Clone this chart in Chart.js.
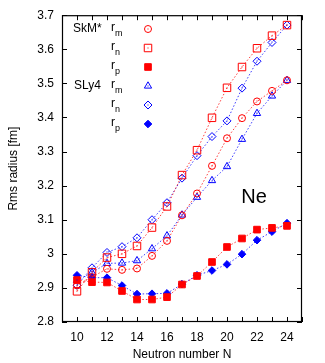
<!DOCTYPE html>
<html><head><meta charset="utf-8">
<script src="https://cdn.jsdelivr.net/npm/chart.js@4/dist/chart.umd.min.js"></script>
<style>html,body{margin:0;padding:0;background:#fff;}#wrap{width:325px;height:363px;}</style>
</head><body><div id="wrap"><canvas id="c" width="325" height="363"></canvas></div>
<script>
// ---- data ----
const neutronNumbers = [10, 11, 12, 13, 14, 15, 16, 17, 18, 19, 20, 21, 22, 23, 24];
const skmRm  = [2.907, 2.932, 2.956, 2.953, 2.957, 2.994, 3.038, 3.113, 3.177, 3.258, 3.339, 3.398, 3.447, 3.478, 3.509];
const skmRn  = [2.890, 2.946, 2.989, 3.000, 3.023, 3.077, 3.139, 3.231, 3.304, 3.399, 3.487, 3.548, 3.603, 3.640, 3.671];
const skmRp  = [2.923, 2.917, 2.916, 2.891, 2.866, 2.866, 2.873, 2.910, 2.935, 2.976, 3.020, 3.045, 3.071, 3.076, 3.082];
const sly4Rm = [2.922, 2.945, 2.972, 2.973, 2.980, 3.015, 3.053, 3.114, 3.166, 3.215, 3.256, 3.336, 3.412, 3.463, 3.509];
const sly4Rn = [2.908, 2.959, 3.004, 3.021, 3.047, 3.100, 3.150, 3.222, 3.288, 3.344, 3.390, 3.486, 3.565, 3.620, 3.671];
const sly4Rp = [2.937, 2.930, 2.930, 2.907, 2.882, 2.883, 2.884, 2.911, 2.937, 2.951, 2.969, 2.999, 3.040, 3.065, 3.090];
const yTickValues = [2.8, 2.9, 3.0, 3.1, 3.2, 3.3, 3.4, 3.5, 3.6, 3.7];
const yTickLabels = ['2.8', '2.9', '3', '3.1', '3.2', '3.3', '3.4', '3.5', '3.6', '3.7'];
const xTickLabels = ['10', '12', '14', '16', '18', '20', '22', '24'];
const legendGroups = ['SkM*', 'SLy4'];
const legendSubs = ['m', 'n', 'p', 'm', 'n', 'p'];

const RED = '#ff0000', BLUE = '#0000ff';
const RED_LINE = 'rgba(255,40,40,0.9)', BLUE_LINE = 'rgba(40,40,255,0.9)';
const FONT = "'Liberation Sans', Arial, sans-serif";

function pts(arr) { return neutronNumbers.map((n, i) => ({ x: n, y: arr[i] })); }

const styles = [
  { data: skmRm,  color: RED,  line: RED_LINE,  style: 'circle',   r: 3.5, open: true },
  { data: skmRn,  color: RED,  line: RED_LINE,  style: 'rect',     r: 5.3, open: true },
  { data: skmRp,  color: RED,  line: RED_LINE,  style: 'rect',     r: 4.7, open: false },
  { data: sly4Rm, color: BLUE, line: BLUE_LINE, style: 'triangle', r: 4.2, open: true },
  { data: sly4Rn, color: BLUE, line: BLUE_LINE, style: 'rectRot',  r: 4.0, open: true },
  { data: sly4Rp, color: BLUE, line: BLUE_LINE, style: 'rectRot',  r: 3.8, open: false }
];

const datasets = styles.map(s => ({
  data: pts(s.data),
  showLine: true,
  fill: false,
  borderColor: s.line,
  borderWidth: 1,
  borderDash: [1.5, 2],
  pointStyle: s.style,
  pointRadius: s.r,
  pointHoverRadius: s.r,
  pointBorderColor: s.color,
  pointBorderWidth: 1,
  pointBackgroundColor: s.open ? 'rgba(0,0,0,0)' : s.color,
  _open: s.open
}));

const framePlugin = {
  id: 'frame',
  afterDatasetsDraw(chart) {
    const ctx = chart.ctx;
    chart.data.datasets.forEach((ds, i) => {
      if (!ds._open) return;
      const meta = chart.getDatasetMeta(i);
      ctx.save();
      ctx.fillStyle = ds.pointBorderColor;
      meta.data.forEach(p => { ctx.fillRect(Math.round(p.x) - 0.5, Math.round(p.y) - 0.5, 1, 1); });
      ctx.restore();
    });
  },
  afterDraw(chart) {
    const ctx = chart.ctx;
    const { left, right, top, bottom } = chart.chartArea;
    const xs = chart.scales.x, ys = chart.scales.y;
    ctx.save();
    ctx.strokeStyle = '#000';
    ctx.lineWidth = 1;
    ctx.beginPath();
    const tl = 5;
    xs.ticks.forEach(t => {
      const px = Math.round(xs.getPixelForValue(t.value)) + 0.5;
      ctx.moveTo(px, bottom); ctx.lineTo(px, bottom - tl);
      ctx.moveTo(px, top); ctx.lineTo(px, top + tl);
    });
    ys.ticks.forEach(t => {
      const py = Math.round(ys.getPixelForValue(t.value)) + 0.5;
      ctx.moveTo(left, py); ctx.lineTo(left + tl, py);
      ctx.moveTo(right, py); ctx.lineTo(right - tl, py);
    });
    ctx.stroke();
    ctx.lineWidth = 1.2;
    ctx.strokeRect(left + 0.5, top + 0.5, right - left - 1, bottom - top - 1);

    // legend
    const rows = [29, 48, 67, 86, 105, 124];
    ctx.fillStyle = '#000';
    ctx.textBaseline = 'middle';
    ctx.textAlign = 'left';
    ctx.font = '12px ' + FONT;
    ctx.fillText(legendGroups[0], 73, rows[0]);
    ctx.fillText(legendGroups[1], 74, rows[3]);
    rows.forEach((y, i) => {
      ctx.fillStyle = '#000';
      ctx.font = '12px ' + FONT;
      ctx.textBaseline = 'middle';
      ctx.fillText('r', 111, y - 1);
      ctx.font = '9px ' + FONT;
      ctx.textBaseline = 'alphabetic';
      ctx.fillText(legendSubs[i], 115, y + 7);
      const s = styles[i];
      ctx.strokeStyle = s.color;
      ctx.fillStyle = s.open ? 'rgba(0,0,0,0)' : s.color;
      ctx.lineWidth = 1;
      Chart.helpers.drawPoint(ctx, { pointStyle: s.style, radius: s.r, borderWidth: 1, rotation: 0 }, 148, y);
      if (s.open) { ctx.fillStyle = s.color; ctx.fillRect(147.5, y - 0.5, 1, 1); }
    });

    ctx.fillStyle = '#000';
    ctx.font = '20px ' + FONT;
    ctx.textAlign = 'center';
    ctx.textBaseline = 'middle';
    ctx.fillText('Ne', xs.getPixelForValue(21.8), ys.getPixelForValue(3.165));
    ctx.restore();
  }
};

new Chart(document.getElementById('c'), {
  type: 'scatter',
  data: { datasets },
  options: {
    responsive: false,
    animation: false,
    devicePixelRatio: 1,
    layout: { padding: { left: 0, top: 14, right: 23, bottom: 0 } },
    plugins: { legend: { display: false }, tooltip: { enabled: false } },
    elements: { line: { tension: 0 } },
    scales: {
      x: {
        type: 'linear', min: 9, max: 25,
        grid: { display: false, drawTicks: false },
        border: { display: false },
        afterFit: s => { s.height = 41; },
        ticks: {
          stepSize: 1, autoSkip: false, maxRotation: 0, padding: 8,
          color: '#000', font: { family: FONT, size: 12 },
          callback: v => xTickLabels.includes(String(v)) ? String(v) : ''
        },
        title: { display: true, text: 'Neutron number N', color: '#000', font: { family: FONT, size: 12 }, padding: { top: 0, bottom: 1 } }
      },
      y: {
        type: 'linear', min: 2.8, max: 3.7,
        grid: { display: false, drawTicks: false },
        border: { display: false },
        afterFit: s => { s.width = 62; },
        ticks: {
          stepSize: 0.1, padding: 8,
          color: '#000', font: { family: FONT, size: 12 },
          callback: v => { const i = yTickValues.findIndex(t => Math.abs(t - v) < 1e-6); return i >= 0 ? yTickLabels[i] : ''; }
        },
        title: { display: true, text: 'Rms radius [fm]', color: '#000', font: { family: FONT, size: 12 }, padding: { top: 6, bottom: 0 } }
      }
    }
  },
  plugins: [framePlugin]
});
</script></body></html>
